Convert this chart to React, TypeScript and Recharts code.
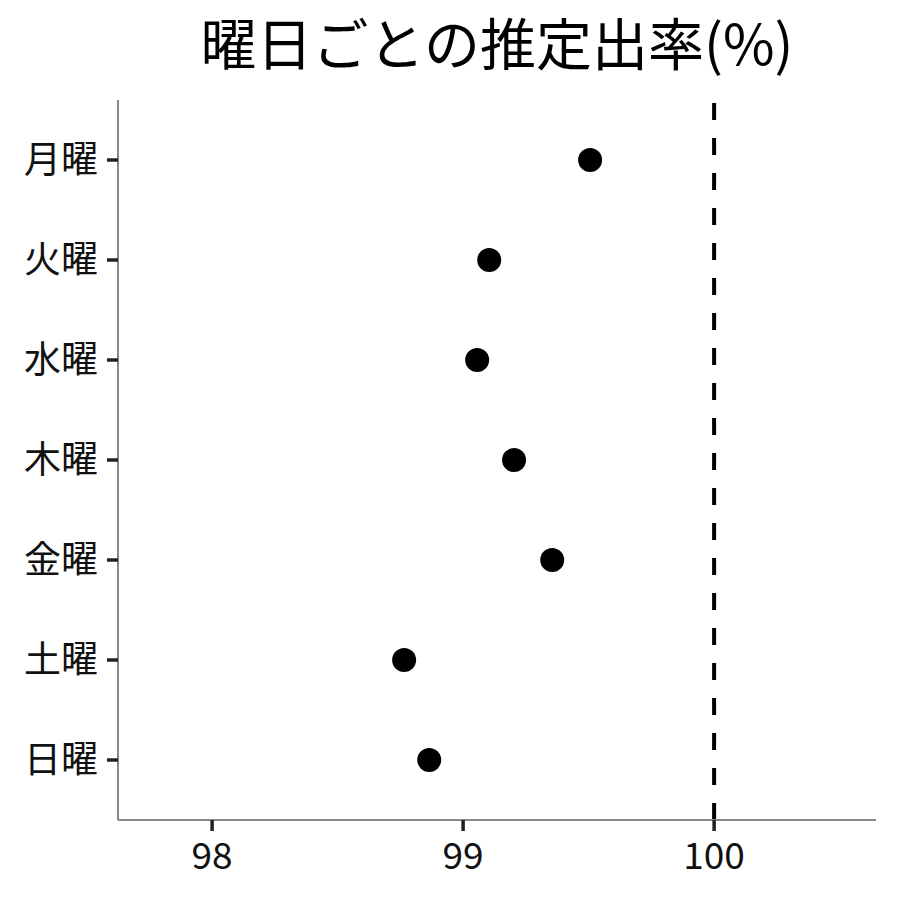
import { ScatterChart, Scatter, XAxis, YAxis, ReferenceLine } from "recharts";

const days = ["月曜", "火曜", "水曜", "木曜", "金曜", "土曜", "日曜"];
const rates = [99.506, 99.104, 99.056, 99.203, 99.355, 98.765, 98.865];
const xTicks = [98, 99, 100];
const yTicks = [1, 2, 3, 4, 5, 6, 7];

const points = days.map((day, i) => ({ day, pos: i + 1, rate: rates[i] }));

const font = '"Noto Sans CJK JP", "Noto Sans", sans-serif';
const TICK = 11;
const X_GAP = 12;
const Y_GAP = 9;

const Dot = (props: any) => <circle cx={props.cx} cy={props.cy} r={12} fill="#000" />;

// tick mark drawn here so its weight matches the reference
const XTick = (props: any) => {
  const { x, y, payload } = props;
  return (
    <g>
      <line x1={x} x2={x} y1={y - X_GAP - TICK} y2={y - X_GAP} stroke="#222" strokeWidth={3.5} />
      <text x={x} y={y} dy="0.71em" textAnchor="middle" fill="#111" fontSize={37} fontFamily={font}>
        {payload.value}
      </text>
    </g>
  );
};

const YTick = (props: any) => {
  const { x, y, payload } = props;
  return (
    <g>
      <line x1={x + Y_GAP} x2={x + Y_GAP + TICK} y1={y} y2={y} stroke="#222" strokeWidth={3.5} />
      <text x={x} y={y} dy="0.355em" textAnchor="end" fill="#111" fontSize={37} fontFamily={font}>
        {days[payload.value - 1]}
      </text>
    </g>
  );
};

export default function App() {
  return (
    <div style={{ position: "absolute", left: 0, top: 0, width: 900, height: 900, background: "#fff", fontFamily: font }}>
      <div
        style={{
          position: "absolute",
          left: 118,
          width: 758,
          top: 1,
          textAlign: "center",
          fontSize: 56,
          lineHeight: "80px",
          color: "#000",
        }}
      >
        曜日ごとの推定出率(%)
      </div>
      <ScatterChart width={900} height={900} margin={{ top: 100, right: 24, bottom: 0, left: 0 }}>
        <XAxis
          type="number"
          dataKey="rate"
          domain={[97.625, 100.645]}
          ticks={xTicks}
          allowDataOverflow
          height={80}
          tickSize={TICK}
          tickMargin={X_GAP}
          axisLine={{ stroke: "#888", strokeWidth: 2 }}
          tickLine={false}
          tick={<XTick />}
        />
        <YAxis
          type="number"
          dataKey="pos"
          domain={[0.4, 7.6]}
          ticks={yTicks}
          reversed
          allowDataOverflow
          width={118}
          tickSize={TICK}
          tickMargin={Y_GAP}
          axisLine={{ stroke: "#888", strokeWidth: 2 }}
          tickLine={false}
          tick={<YTick />}
        />
        <ReferenceLine x={100} stroke="#000" strokeWidth={4} strokeDasharray="17 18" />
        <Scatter data={points} shape={Dot} isAnimationActive={false} />
      </ScatterChart>
    </div>
  );
}
